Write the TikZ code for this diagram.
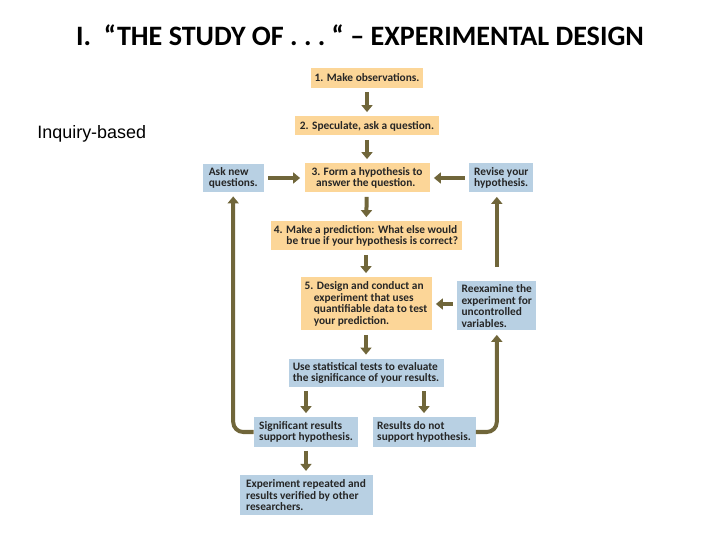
\documentclass[tikz,border=0pt]{standalone}
\usepackage{fontspec}
\setmainfont{Carlito}
\newfontfamily\labelfont{Liberation Sans}
\usepackage{tikz}
\usetikzlibrary{positioning, arrows.meta}
\definecolor{StepOrange}{RGB}{252,214,152}
\definecolor{StepBlue}{RGB}{184,208,227}
\definecolor{FlowOlive}{RGB}{112,102,58}

\begin{document}
\begin{tikzpicture}[
  x=0.5bp, y=-0.5bp,
  every node/.style={font=\bfseries\fontsize{5.7}{5.8}\selectfont, text=black!85},
  stepbox/.style={fill=StepOrange, align=left, inner xsep=1.5bp, inner ysep=1.5bp},
  notebox/.style={fill=StepBlue, align=left, inner xsep=1.5bp, inner ysep=1.5bp},
  flow/.style={-{Triangle[width=5.5bp,length=3.5bp]}, line width=2bp, FlowOlive, shorten >=2bp, shorten <=2bp},
  loop/.style={-{Triangle[width=5.5bp,length=3.5bp]}, line width=2bp, FlowOlive, rounded corners=5bp, shorten >=2bp}
]
\useasboundingbox (0,0) rectangle (720,540);

% title and side label
\node[font=\bfseries\fontsize{14.1}{16}\selectfont, text=black] (title) at (360,35)
  {I.\ \ “THE STUDY OF .\ .\ .\ “ – EXPERIMENTAL DESIGN};
\node[font=\labelfont\fontsize{9}{10}\selectfont, text=black, anchor=west, inner sep=0pt] (inquiry) at (37,134) {Inquiry-based};

% main column
\node[stepbox, minimum width=56bp, minimum height=10bp] (observe) at (367,78) {1. Make observations.};
\node[stepbox, minimum width=72bp, minimum height=9.5bp] (speculate) at (367,126) {2. Speculate, ask a question.};
\node[stepbox, minimum width=62.5bp, minimum height=14.5bp] (hypo) at (367,178) {3. Form a hypothesis to\\\hspace*{0.4em}answer the question.};
\node[stepbox, minimum width=95.5bp, minimum height=14.5bp] (predict) at (366,236) {4. Make a prediction: What else would\\\hspace*{1.1em}be true if your hypothesis is correct?};
\node[stepbox, minimum width=65.5bp, minimum height=26.5bp] (design) at (366,304) {5. Design and conduct an\\\hspace*{0.8em}experiment that uses\\\hspace*{0.8em}quantifiable data to test\\\hspace*{0.8em}your prediction.};
\node[notebox, minimum width=77.5bp, minimum height=14bp] (stats) at (366,373) {Use statistical tests to evaluate\\the significance of your results.};

% side boxes
\node[notebox, minimum width=30.5bp, minimum height=14bp, left=20bp of hypo] (asknew) {Ask new\\questions.};
\node[notebox, minimum width=32bp, minimum height=14.5bp, right=19.5bp of hypo] (revise) {Revise your\\hypothesis.};
\node[notebox, minimum width=39.5bp, minimum height=24.5bp, right=12.5bp of design, yshift=-1bp] (reexamine) {Reexamine the\\experiment for\\uncontrolled\\variables.};

% outcomes
\node[notebox, minimum width=52bp, minimum height=14.5bp] (support) at (306,432) {Significant results\\support hypothesis.};
\node[notebox, minimum width=51.5bp, minimum height=14.5bp] (nosupport) at (424,432) {Results do not\\support hypothesis.};
\node[notebox, minimum width=66.5bp, minimum height=20bp, below=14bp of support] (repeated) {Experiment repeated and\\results verified by other\\researchers.};

% arrows down the column
\draw[flow] (observe) -- (speculate);
\draw[flow] (speculate) -- (hypo);
\draw[flow] (hypo) -- (predict);
\draw[flow] (predict) -- (design);
\draw[flow] (design) -- (stats);
\draw[flow] (stats.south -| support) -- (support);
\draw[flow] (stats.south -| nosupport) -- (nosupport);
\draw[flow] (support) -- (repeated.north -| support);

% side arrows
\draw[flow] (asknew) -- (hypo);
\draw[flow] (revise) -- (hypo);
\draw[flow] (reexamine.west |- design) -- (design);
\draw[flow, shorten <=7bp] (reexamine.north) -- (revise.south -| reexamine.north);

% feedback loops
\draw[loop] (support.west) -| (asknew.south);
\draw[loop] (nosupport.east) -| (reexamine.south);

\end{tikzpicture}
\end{document}
